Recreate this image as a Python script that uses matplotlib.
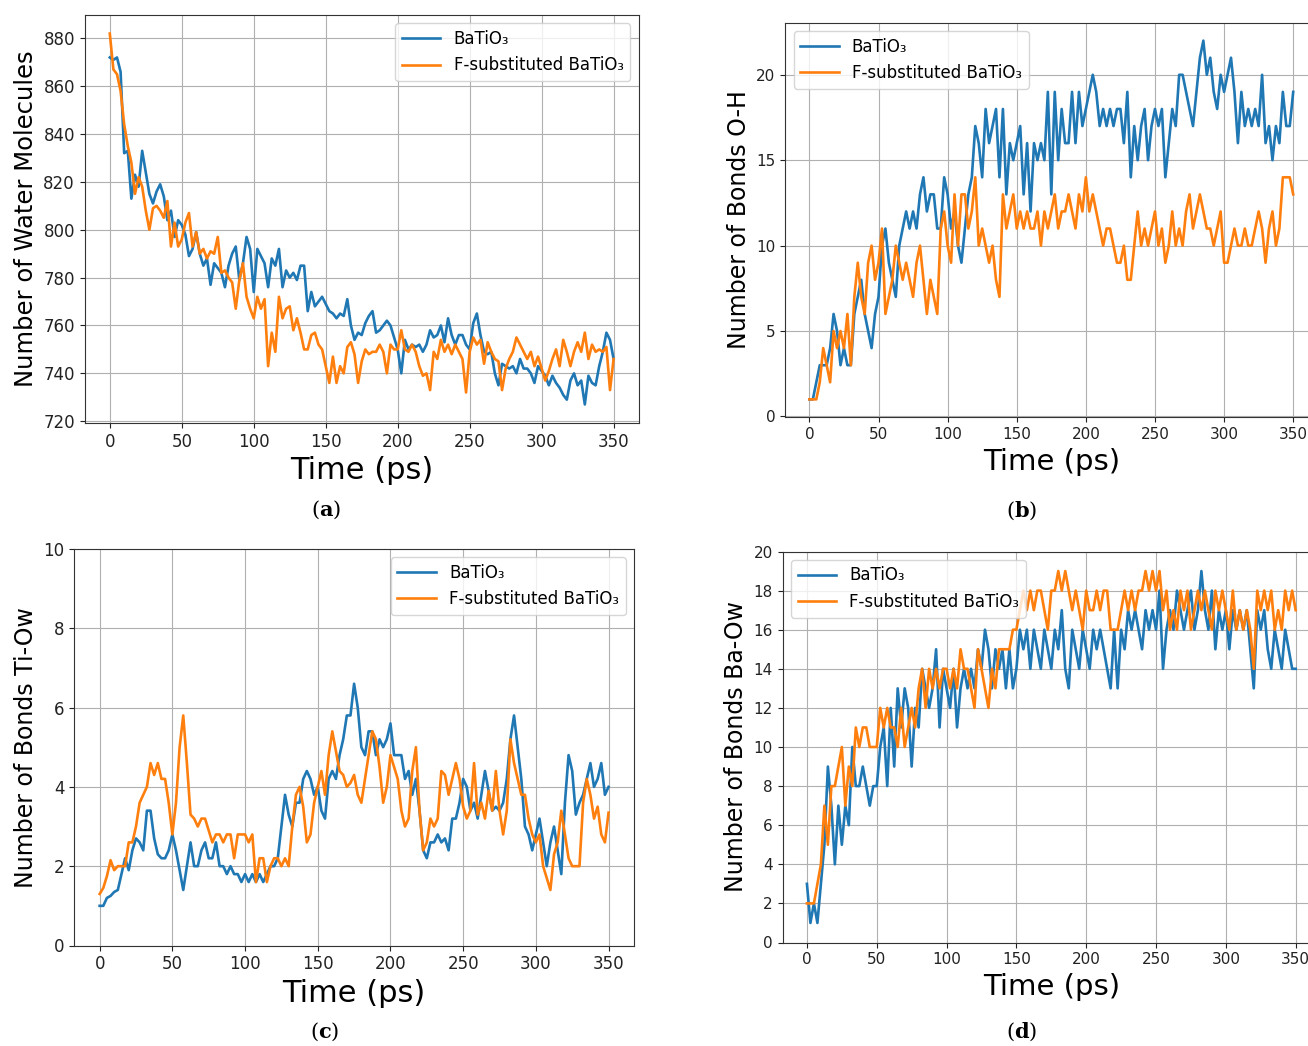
import numpy as np
import matplotlib
matplotlib.use("Agg")
import matplotlib.pyplot as plt

plt.rcParams["mathtext.fontset"] = "dejavuserif"

# ---- data (one sample every 2.5 ps) ----
water_bto = [
    872, 871, 872, 866, 832, 833, 813, 823, 818, 833,
    824, 815, 811, 816, 819, 814, 804, 808, 797, 804,
    802, 798, 789, 792, 799, 790, 785, 788, 777, 786,
    784, 782, 776, 785, 790, 793, 779, 786, 797, 792,
    774, 792, 789, 786, 776, 788, 785, 792, 776, 783,
    780, 782, 779, 785, 785, 766, 774, 768, 770, 772,
    769, 766, 765, 763, 765, 764, 771, 760, 754, 757,
    756, 761, 764, 766, 757, 758, 760, 762, 760, 755,
    750, 740, 754, 750, 752, 751, 752, 749, 752, 758,
    755, 756, 760, 753, 763, 756, 752, 756, 756, 752,
    750, 761, 765, 756, 749, 748, 749, 740, 735, 744,
    743, 742, 743, 740, 746, 742, 742, 740, 736, 743,
    741, 739, 735, 739, 736, 734, 731, 729, 737, 740,
    735, 737, 727, 739, 736, 735, 743, 749, 757, 754,
    746]
water_fbto = [
    882, 867, 865, 858, 844, 835, 828, 815, 822, 818,
    808, 800, 809, 810, 808, 805, 812, 793, 803, 793,
    796, 803, 807, 793, 799, 790, 792, 788, 791, 790,
    797, 782, 783, 780, 778, 767, 779, 786, 772, 767,
    763, 772, 767, 771, 743, 757, 749, 772, 763, 767,
    768, 758, 763, 757, 750, 750, 756, 757, 752, 750,
    743, 736, 747, 736, 743, 740, 751, 753, 748, 736,
    745, 750, 748, 749, 749, 752, 749, 740, 752, 750,
    750, 758, 750, 749, 752, 749, 743, 739, 740, 733,
    749, 746, 754, 749, 752, 748, 752, 749, 746, 732,
    749, 755, 752, 754, 744, 753, 749, 746, 745, 733,
    742, 746, 749, 755, 752, 749, 746, 749, 743, 747,
    742, 737, 741, 746, 750, 743, 754, 749, 743, 749,
    753, 749, 757, 746, 752, 749, 750, 749, 751, 733,
    746]

oh_bto = [
    1, 1, 2, 3, 3, 3, 4, 6, 5, 3,
    4, 3, 3, 6, 7, 8, 6, 5, 4, 6,
    7, 10, 11, 9, 8, 7, 10, 11, 12, 11,
    12, 11, 13, 14, 12, 13, 13, 11, 11, 14,
    13, 11, 12, 10, 9, 11, 13, 14, 17, 16,
    14, 18, 16, 17, 18, 14, 18, 13, 16, 15,
    16, 17, 13, 16, 12, 16, 15, 16, 15, 19,
    13, 19, 15, 18, 16, 16, 19, 16, 19, 17,
    18, 19, 20, 19, 17, 18, 17, 18, 17, 18,
    18, 16, 19, 14, 17, 15, 17, 18, 15, 17,
    18, 17, 18, 14, 16, 18, 17, 20, 20, 19,
    18, 17, 19, 21, 22, 20, 21, 19, 18, 20,
    19, 20, 21, 19, 16, 19, 17, 18, 17, 18,
    17, 20, 16, 17, 15, 17, 16, 19, 17, 17,
    19]
oh_fbto = [
    1, 1, 1, 2, 4, 3, 2, 5, 4, 5,
    4, 6, 3, 7, 9, 7, 6, 9, 10, 8,
    9, 11, 6, 7, 8, 10, 9, 8, 9, 8,
    7, 9, 10, 8, 6, 8, 7, 6, 11, 12,
    10, 9, 13, 10, 13, 13, 11, 12, 14, 10,
    11, 10, 9, 10, 8, 7, 13, 11, 12, 13,
    11, 12, 11, 12, 11, 11, 12, 10, 12, 11,
    12, 13, 11, 12, 12, 13, 12, 11, 13, 12,
    14, 12, 13, 12, 11, 10, 11, 11, 10, 9,
    9, 10, 8, 8, 10, 12, 10, 11, 10, 11,
    12, 10, 11, 9, 10, 12, 10, 11, 10, 12,
    13, 11, 12, 13, 12, 11, 11, 10, 11, 12,
    9, 9, 10, 11, 10, 10, 11, 10, 10, 11,
    12, 11, 9, 11, 12, 10, 11, 14, 14, 14,
    13]

tiow_bto = [
    1.0, 1.0, 1.2, 1.25, 1.35, 1.4, 1.8, 2.2, 1.9, 2.4,
    2.7, 2.6, 2.4, 3.4, 3.4, 2.7, 2.3, 2.2, 2.2, 2.4,
    2.8, 2.4, 1.9, 1.4, 2.0, 2.6, 2.0, 2.0, 2.4, 2.6,
    2.2, 2.2, 2.6, 2.0, 2.0, 1.8, 2.0, 1.8, 1.8, 1.6,
    1.8, 1.6, 1.8, 1.6, 1.8, 1.6, 1.8, 2.0, 2.0, 2.2,
    3.0, 3.8, 3.3, 3.0, 3.6, 3.6, 4.2, 4.4, 4.2, 3.8,
    4.0, 3.4, 3.2, 4.2, 4.4, 4.2, 4.8, 5.2, 5.8, 5.8,
    6.6, 6.0, 5.0, 4.8, 5.4, 5.4, 4.8, 5.2, 5.0, 5.2,
    5.6, 4.8, 4.8, 4.8, 4.2, 4.4, 3.8, 4.2, 3.4, 2.4,
    2.2, 2.6, 2.6, 2.8, 2.6, 2.7, 2.4, 3.2, 3.2, 3.6,
    4.2, 4.0, 3.4, 3.6, 3.2, 3.8, 4.4, 3.9, 3.4, 3.5,
    3.4, 3.6, 4.2, 5.2, 5.8, 5.0, 4.2, 3.0, 2.8, 2.4,
    2.8, 3.2, 2.6, 2.0, 2.6, 3.0, 2.4, 1.8, 3.6, 4.8,
    4.4, 3.3, 3.6, 3.8, 4.2, 4.6, 4.0, 4.2, 4.6, 3.8,
    4.0]
tiow_fbto = [
    1.3, 1.45, 1.75, 2.15, 1.9, 2.0, 2.0, 2.0, 2.6, 2.6,
    3.0, 3.6, 3.8, 4.0, 4.6, 4.3, 4.6, 4.2, 4.2, 3.6,
    2.8, 3.6, 5.0, 5.8, 4.6, 3.3, 3.2, 3.0, 3.2, 3.2,
    2.9, 2.6, 2.8, 2.8, 2.6, 2.8, 2.8, 2.2, 2.8, 2.8,
    2.8, 2.6, 2.8, 1.6, 2.2, 2.2, 1.6, 2.0, 2.2, 2.2,
    2.0, 2.2, 2.0, 3.0, 3.8, 4.0, 3.5, 2.6, 2.8, 3.6,
    4.0, 4.4, 3.8, 4.8, 5.4, 4.9, 4.4, 4.3, 4.0, 4.1,
    4.3, 3.8, 3.6, 4.2, 4.8, 5.4, 5.2, 4.5, 3.6, 4.0,
    4.8, 4.5, 4.2, 3.4, 3.0, 3.2, 4.4, 5.0, 3.4, 2.4,
    2.6, 3.2, 3.0, 3.2, 4.4, 4.3, 3.8, 4.2, 4.6, 4.2,
    3.5, 3.2, 3.4, 4.6, 3.3, 3.6, 3.2, 3.9, 3.4, 4.4,
    3.4, 2.8, 3.4, 5.2, 4.6, 4.2, 3.8, 3.8, 3.2, 2.8,
    2.6, 2.8, 2.0, 1.7, 1.4, 2.3, 2.6, 3.4, 2.8, 2.2,
    2.0, 2.0, 2.0, 3.6, 4.2, 3.8, 3.2, 3.5, 2.8, 2.6,
    3.35]

baow_bto = [
    3, 1, 2, 1, 3, 5, 9, 7, 4, 7,
    5, 7, 6, 10, 8, 8, 9, 8, 7, 8,
    8, 10, 11, 8, 12, 9, 13, 11, 13, 12,
    9, 12, 11, 14, 13, 12, 13, 15, 11, 14,
    13, 12, 14, 11, 13, 14, 13, 14, 13, 15,
    14, 16, 15, 13, 15, 14, 15, 13, 15, 13,
    14, 16, 15, 16, 14, 16, 15, 14, 16, 15,
    14, 16, 15, 17, 14, 13, 16, 15, 14, 16,
    15, 14, 16, 15, 16, 15, 14, 13, 16, 13,
    16, 15, 17, 16, 17, 16, 15, 17, 16, 17,
    16, 18, 14, 16, 17, 16, 18, 17, 16, 17,
    18, 16, 17, 19, 17, 16, 18, 15, 17, 16,
    17, 15, 17, 16, 17, 16, 17, 15, 13, 17,
    16, 17, 15, 14, 16, 15, 14, 16, 15, 14,
    14]
baow_fbto = [
    2, 2, 2, 3, 4, 7, 5, 8, 8, 9,
    10, 7, 9, 8, 11, 10, 11, 11, 10, 10,
    10, 12, 11, 12, 11, 11, 10, 12, 10, 11,
    12, 11, 13, 14, 12, 14, 13, 14, 13, 14,
    14, 13, 14, 13, 15, 14, 14, 13, 12, 15,
    14, 13, 12, 14, 13, 15, 15, 15, 15, 16,
    16, 17, 18, 17, 18, 17, 18, 18, 17, 16,
    18, 18, 19, 18, 19, 18, 17, 18, 17, 16,
    18, 17, 17, 18, 17, 18, 18, 16, 16, 16,
    17, 18, 17, 18, 17, 18, 18, 19, 18, 19,
    18, 19, 17, 18, 16, 17, 16, 18, 17, 18,
    16, 17, 18, 17, 18, 17, 16, 18, 17, 18,
    17, 16, 18, 16, 17, 16, 17, 16, 14, 18,
    17, 18, 17, 18, 16, 17, 16, 18, 17, 18,
    17]

labels = ["BaTiO\u2083", "F-substituted BaTiO\u2083"]

W, H = 1308, 1046
fig = plt.figure(figsize=(W / 100, H / 100), dpi=100)


def px_axes(left, top, right, bottom):
    # axes box given in pixel coordinates of the final image
    return fig.add_axes([left / W, 1 - bottom / H, (right - left) / W, (bottom - top) / H])


def panel(ax, bto, fbto, ylabel, loc, ylim=None, tick_fs=12, xl_fs=22, yl_fs=17.5):
    t1 = np.linspace(0, 350, len(bto))
    t2 = np.linspace(0, 350, len(fbto))
    ax.plot(t1, bto, color="#1f77b4", lw=1.9, label=labels[0])
    ax.plot(t2, fbto, color="#ff7f0e", lw=1.9, label=labels[1])
    ax.set_xticks(range(0, 351, 50))
    if ylim is not None:
        ax.set_ylim(*ylim)
    ax.tick_params(labelsize=tick_fs, colors="#222222")
    for s in ax.spines.values():
        s.set_color("#333333")
    ax.set_xlabel("Time (ps)", fontsize=xl_fs)
    ax.set_ylabel(ylabel, fontsize=yl_fs)
    ax.grid(True)
    ax.legend(loc=loc, fontsize=12, handlelength=2.3)


ax_a = px_axes(84.6, 15, 638.8, 423)
panel(ax_a, water_bto, water_fbto, "Number of Water Molecules", "upper right")

ax_b = px_axes(785.2, 22.7, 1317.4, 417.3)
panel(ax_b, oh_bto, oh_fbto, "Number of Bonds O-H", "upper left",
      tick_fs=11, xl_fs=21, yl_fs=17)
ax_b.set_yticks([0, 5, 10, 15, 20])

ax_c = px_axes(74.2, 548.9, 634, 945.5)
panel(ax_c, tiow_bto, tiow_fbto, "Number of Bonds Ti-Ow", "upper right",
      ylim=(0, 10), tick_fs=12, xl_fs=22, yl_fs=17)

ax_d = px_axes(782.5, 551.5, 1320.1, 942.5)
panel(ax_d, baow_bto, baow_fbto, "Number of Bonds Ba-Ow", "upper left",
      ylim=(0, 20), tick_fs=11, xl_fs=21, yl_fs=17)
ax_d.set_yticks(range(0, 21, 2))

# sub-figure captions
for letter, (x, y) in zip("abcd", [(326, 510), (1022, 511), (325, 1032), (1022, 1032)]):
    fig.text(x / W, 1 - y / H, r"($\mathbf{%s}$)" % letter, ha="center", va="center",
             fontsize=15, family="DejaVu Serif")

fig.savefig("out.png", dpi=100)
